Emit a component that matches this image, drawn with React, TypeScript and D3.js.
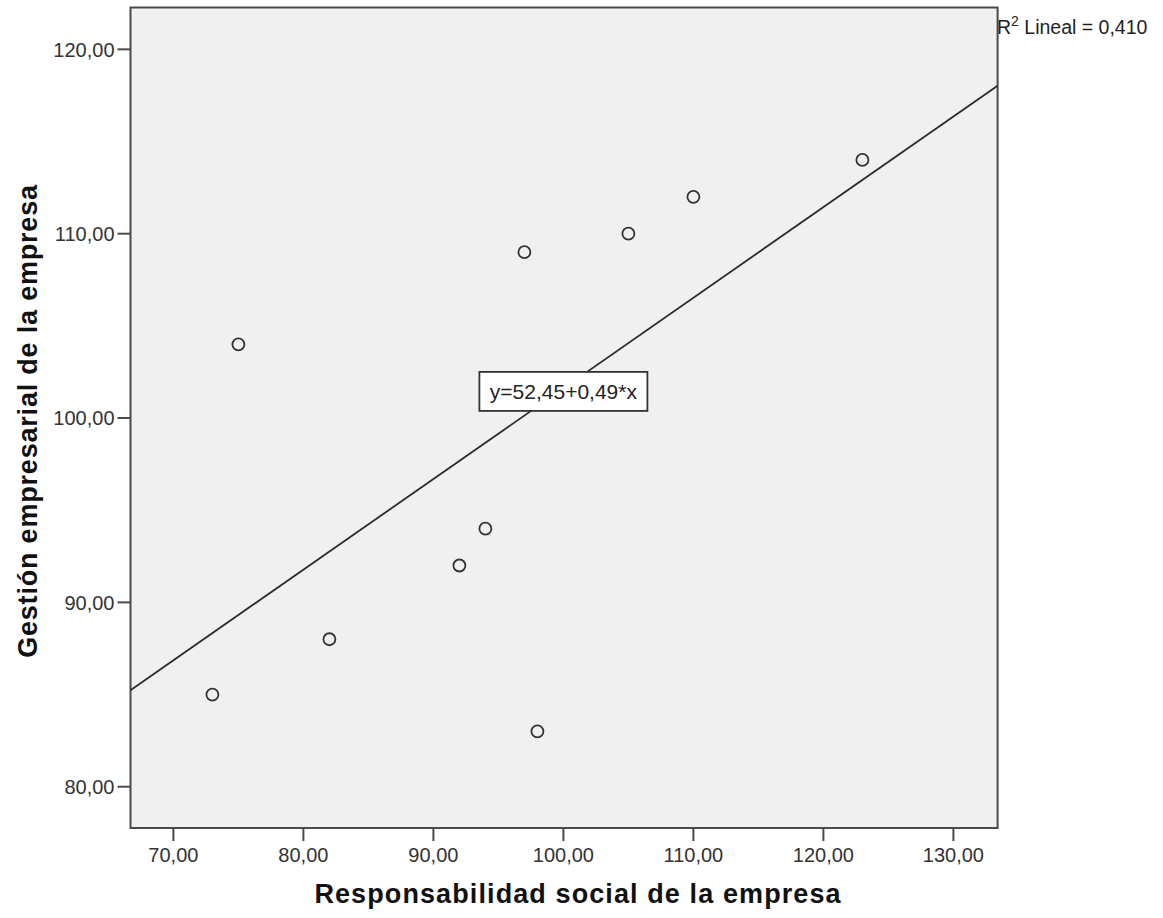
import React from "react";
import * as d3 from "d3";

// Responsabilidad social (x) vs Gestión empresarial (y)
const responsabilidad = [73, 75, 82, 92, 94, 97, 98, 105, 110, 123];
const gestion = [85, 104, 88, 92, 94, 109, 83, 110, 112, 114];

const xTicks = [70, 80, 90, 100, 110, 120, 130];
const yTicks = [80, 90, 100, 110, 120];

const xTitle = "Responsabilidad social de la empresa";
const yTitle = "Gestión empresarial de la empresa";
const r2Label = "0,410";
const eqLabelAt = 100; // x value where the equation box sits

const W = 1163;
const H = 918;
const font = "'Liberation Sans', Arial, sans-serif";

const fmt = (v: number) => v.toFixed(2).replace(".", ",");

export default function App() {
  const x = d3.scaleLinear().domain([66.7, 133.4]).range([130.5, 997.6]);
  const y = d3.scaleLinear().domain([77.76, 122.27]).range([828, 7.5]);

  // least squares fit
  const mx = d3.mean(responsabilidad) as number;
  const my = d3.mean(gestion) as number;
  const sxy = d3.sum(responsabilidad, (v, i) => (v - mx) * (gestion[i] - my));
  const sxx = d3.sum(responsabilidad, (v) => (v - mx) ** 2);
  const slope = sxy / sxx;
  const intercept = my - slope * mx;
  const [x0, x1] = x.domain();
  const fitLine = d3.line<number>()
    .x((v) => x(v))
    .y((v) => y(intercept + slope * v))([x0, x1]);

  const [left, right] = x.range();
  const [bottom, top] = y.range();

  const eqText = `y=${fmt(intercept)}+${fmt(slope)}*x`;
  const eqX = x(eqLabelAt);
  const eqY = y(intercept + slope * eqLabelAt) + 3;

  return (
    <svg width={W} height={H} style={{ position: "absolute", left: 0, top: 0, background: "#fff" }} fontFamily={font}>
      <rect x={left} y={top} width={right - left} height={bottom - top} fill="#f0f0f0" stroke="#4a4a4a" strokeWidth={2} />

      {/* fit line */}
      <path d={fitLine ?? ""} fill="none" stroke="#2b2b2b" strokeWidth={1.8} />

      {/* points */}
      {responsabilidad.map((v, i) => (
        <circle key={i} cx={x(v)} cy={y(gestion[i])} r={6} fill="none" stroke="#333" strokeWidth={1.8} />
      ))}

      {/* equation label */}
      <g transform={`translate(${eqX}, ${eqY})`}>
        <rect x={-84} y={-19.5} width={168} height={39} fill="#fff" stroke="#333" strokeWidth={1.8} />
        <text textAnchor="middle" dy="0.36em" fontSize={21} fill="#222">{eqText}</text>
      </g>

      {/* x axis */}
      {xTicks.map((t) => (
        <g key={t} transform={`translate(${x(t)}, ${bottom})`}>
          <line y1={0} y2={13} stroke="#4a4a4a" strokeWidth={2} />
          <text y={34} textAnchor="middle" fontSize={20} fill="#333">{fmt(t)}</text>
        </g>
      ))}

      {/* y axis */}
      {yTicks.map((t) => (
        <g key={t} transform={`translate(${left}, ${y(t)})`}>
          <line x1={0} x2={-13} stroke="#4a4a4a" strokeWidth={2} />
          <text x={-16} dy="0.36em" textAnchor="end" fontSize={20} fill="#333">{fmt(t)}</text>
        </g>
      ))}

      {/* titles */}
      <text x={(left + right) / 2 + 14} y={903} textAnchor="middle" fontSize={27} fontWeight="bold" letterSpacing={1.1} fill="#111">
        {xTitle}
      </text>
      <text transform={`translate(37, 421) rotate(-90)`} textAnchor="middle" fontSize={27} fontWeight="bold" letterSpacing={0.8} fill="#111">
        {yTitle}
      </text>

      {/* R² label */}
      <text x={997} y={34} fontSize={19.5} fill="#222">
        R<tspan fontSize={14} dy={-8}>2</tspan>
        <tspan dy={8}> Lineal = {r2Label}</tspan>
      </text>
    </svg>
  );
}
